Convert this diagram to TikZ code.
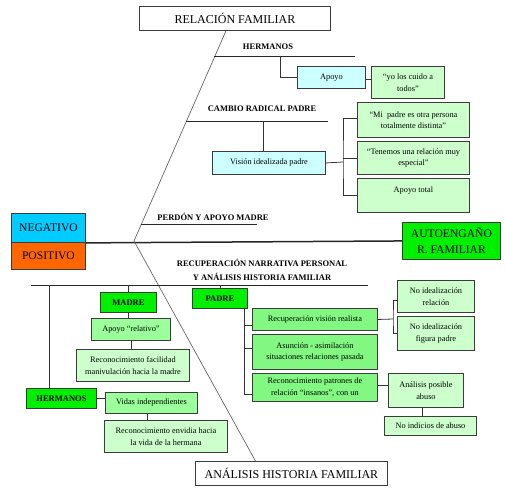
\documentclass[tikz,border=0pt]{standalone}
\usepackage{fontspec}
\setmainfont{Liberation Serif}
\usetikzlibrary{positioning}
\definecolor{paleblue}{HTML}{CCFFFF}
\definecolor{negblue}{HTML}{00CCFF}
\definecolor{posorange}{HTML}{FF6600}
\definecolor{limegreen}{RGB}{0,240,0}
\definecolor{midgreen}{RGB}{130,248,130}
\definecolor{softgreen}{RGB}{155,255,155}
\definecolor{palegreen}{HTML}{CCFFCC}
\definecolor{edge}{RGB}{60,60,60}
\tikzset{
      basebox/.style={
        draw=edge,
        line width=0.9pt,
        anchor=north west,
        align=center,
        inner sep=1pt,
        font=\fontsize{8.3}{11.5}\selectfont
      },
      titlebox/.style={basebox, fill=white, font=\fontsize{12}{14}\selectfont},
      sidebox/.style={basebox, font=\fontsize{11.6}{16}\selectfont},
      headbox/.style={basebox, fill=limegreen, font=\bfseries\fontsize{8.5}{11}\selectfont},
      cyanbox/.style={basebox, fill=paleblue},
      quotebox/.style={basebox, fill=palegreen},
      stepbox/.style={basebox, fill=midgreen},
      softbox/.style={basebox, fill=softgreen},
      bonetext/.style={align=center, inner sep=0pt, font=\bfseries\fontsize{8.5}{14}\selectfont},
      bone/.style={draw=black!85, line width=0.9pt},
      link/.style={draw=black!80, line width=0.8pt},
      slant/.style={draw=black!60, line width=0.7pt}
    }
\begin{document}
\begin{tikzpicture}[x=1pt,y=-1pt]
    \useasboundingbox (0,0) rectangle (505,489);
    % titles and sides
    \node[titlebox, minimum width=191pt, minimum height=24pt] (rel) at (139,6) {RELACIÓN FAMILIAR};
    \node[titlebox, minimum width=192pt, minimum height=24pt] (ana) at (195,461) {ANÁLISIS HISTORIA FAMILIAR};
    \node[sidebox, fill=negblue, minimum width=74pt, minimum height=29pt] (neg) at (11,213) {NEGATIVO};
    \node[sidebox, fill=posorange, minimum width=74pt, minimum height=27pt] (pos) at (11,242) {POSITIVO};
    \node[sidebox, fill=limegreen, minimum width=98pt, minimum height=37pt] (auto) at (402,222) {AUTOENGAÑO\\R. FAMILIAR};
    \coordinate (hub) at (134,241);
    \draw[bone, line width=1.5pt] (neg.south east) -- (auto.west);
    \draw[slant] ([xshift=-9pt]rel.south) -- (hub);
    \draw[slant] (hub) -- ([xshift=-36pt]ana.north);

    % upper bones
    \node[bonetext] (lhe) at (268,47) {HERMANOS};
    \coordinate (heL) at (214,56);
    \coordinate (heR) at (355,56);
    \draw[bone] (heL) -- (heR);
    \node[bonetext] (lca) at (262,109) {CAMBIO RADICAL PADRE};
    \coordinate (caL) at (186,121);
    \coordinate (caR) at (328,121);
    \draw[bone] (caL) -- (caR);
    \node[bonetext] (lpe) at (213,217) {PERDÓN Y APOYO MADRE};
    \coordinate (peL) at (141,224);
    \coordinate (peR) at (257,224);
    \draw[bone] (peL) -- (peR);

    \node[cyanbox, minimum width=68pt, minimum height=22pt] (apoyo) at (297,66) {Apoyo};
    \node[quotebox, minimum width=73pt, minimum height=32pt] (cuido) at (371,66) {“yo los cuido a\\todos”};
    \coordinate (heB) at (280,56);
    \draw[link] (heB) |- (apoyo.west);
    \draw[link] ([yshift=-2pt]apoyo.east) -- ([yshift=-2pt]apoyo.east -| cuido.west);

    \node[cyanbox, minimum width=113pt, minimum height=23pt] (vision) at (212,151) {Visión idealizada padre};
    \node[quotebox, minimum width=112pt, minimum height=35pt] (q1) at (357,102) {“Mi\ \ padre es otra persona\\totalmente distinta”};
    \node[quotebox, minimum width=112pt, minimum height=33pt] (q2) at (357,141) {“Tenemos una relación muy\\especial”};
    \node[quotebox, minimum width=112pt, minimum height=34pt] (q3) at (357,178) {Apoyo total\\\mbox{}};
    \coordinate (caB) at (263,121);
    \draw[link] (caB) -- (caB |- vision.north);
    \coordinate (viB) at (343,162);
    \draw[link] (vision.east) -- (viB);
    \draw[link] ([yshift=2pt]q1.west) -| (viB) |- (q3.west);
    \draw[link] (q2.west) -- (q2.west -| viB);

    % lower bone
    \node[bonetext] (lre) at (262,270) {RECUPERACIÓN NARRATIVA PERSONAL\\Y ANÁLISIS HISTORIA FAMILIAR};
    \coordinate (reL) at (31,285);
    \coordinate (reR) at (368,285);
    \draw[bone] (reL) -- (reR);

    % madre / hermanos
    \node[headbox, minimum width=70pt, minimum height=20pt] (herm) at (26,388) {HERMANOS};
    \node[headbox, minimum width=56pt, minimum height=20pt] (madre) at (100,292) {MADRE};
    \node[softbox, minimum width=79pt, minimum height=22pt] (relat) at (91,318) {Apoyo “relativo”};
    \node[quotebox, minimum width=113pt, minimum height=32pt] (facil) at (76,349) {Reconocimiento facilidad\\manivulación hacia la madre};
    \node[softbox, minimum width=92pt, minimum height=21pt] (vidas) at (105,392) {Vidas independientes};
    \node[quotebox, minimum width=123pt, minimum height=32pt] (envidia) at (104,420) {Reconocimiento envidia hacia\\la vida de la hermana};
    \coordinate (hmB) at (49,285);
    \draw[link] (hmB) -- (hmB |- herm.north);
    \draw[link] (madre.north |- reL) -- (madre.north);
    \draw[link] (madre.south) -- (madre.south |- relat.north);
    \draw[link] (relat.south) -- (relat.south |- facil.north);
    \draw[link] (herm.east) -- (herm.east -| vidas.west);
    \draw[link] ([xshift=-4pt]vidas.south) -- ([xshift=-4pt]vidas.south |- envidia.north);

    % padre
    \node[headbox, minimum width=55pt, minimum height=20pt] (padre) at (192,288) {PADRE};
    \node[stepbox, minimum width=125pt, minimum height=22pt] (rv) at (252,308) {Recuperación visión realista};
    \node[stepbox, minimum width=125pt, minimum height=35pt] (asu) at (252,334) {Asunción - asimilación\\situaciones relaciones pasada};
    \node[stepbox, minimum width=125pt, minimum height=28pt] (pat) at (252,373) {Reconocimiento patrones de\\relación “insanos”, con un};
    \draw[link] (padre.north |- reL) -- (padre.north);
    \coordinate (paB) at (244,308);
    \draw[link] (paB) |- ([yshift=-7pt]pat.west);
    \draw[link] ([yshift=-6pt]rv.west) -- ([yshift=-6pt]rv.west -| paB);
    \draw[link] ([yshift=4pt]asu.west) -- ([yshift=4pt]asu.west -| paB);

    \node[quotebox, minimum width=77pt, minimum height=32pt] (ni1) at (397,280) {No idealización\\relación};
    \node[quotebox, minimum width=77pt, minimum height=34pt] (ni2) at (397,316) {No idealización\\figura padre};
    \coordinate (rvB) at (393,319);
    \draw[link] (rv.east) -- (rvB);
    \draw[link] ([yshift=-4pt]ni1.west) -| (rvB) |- (ni2.west);

    \node[quotebox, minimum width=75pt, minimum height=34pt] (abuso) at (388,373) {Análisis posible\\abuso};
    \node[quotebox, minimum width=92pt, minimum height=19pt] (noind) at (384,416) {No indicios de abuso};
    \draw[link] ([yshift=2pt]pat.east) -- ([yshift=2pt]pat.east -| abuso.west);
    \draw[link] ([xshift=-4pt]abuso.south) -- ([xshift=-4pt]abuso.south |- noind.north);
\end{tikzpicture}
\end{document}
